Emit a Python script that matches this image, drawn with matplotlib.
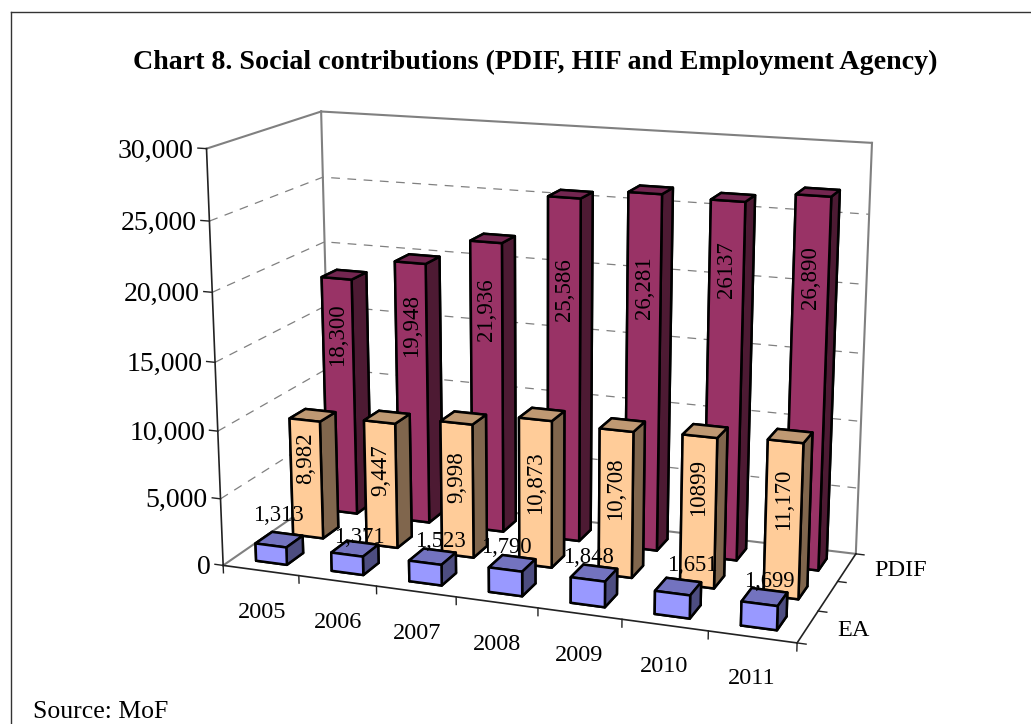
# Chart 8, Excel style 3D columns redone with mplot3d
import numpy as np
import matplotlib
matplotlib.use('Agg')
import matplotlib.pyplot as plt
from matplotlib.lines import Line2D
from mpl_toolkits.mplot3d import proj3d

plt.rcParams['font.family'] = ['Liberation Serif', 'DejaVu Serif']

years = ['2005', '2006', '2007', '2008', '2009', '2010', '2011']
ea = [1313, 1371, 1523, 1790, 1848, 1651, 1699]
hif = [8982, 9447, 9998, 10873, 10708, 10899, 11170]
pdif = [18300, 19948, 21936, 25586, 26281, 26137, 26890]

ea_text = ['1,313', '1,371', '1,523', '1,790', '1,848', '1,651', '1,699']
hif_text = ['8,982', '9,447', '9,998', '10,873', '10,708', '10899', '11,170']
pdif_text = ['18,300', '19,948', '21,936', '25,586', '26,281', '26137', '26,890']

z_ticks = [0, 5000, 10000, 15000, 20000, 25000, 30000]

# where excel left each data label, px from the top of the bar
hif_drop = [40, 50, 55, 64, 58, 50, 56]
pdif_drop = [59, 65, 69, 92, 93, 67, 78]
ea_rise = [32, 19, 23, 22, 22, 29, 22]
ea_shift = [9, 13, 16, 1, 0, 18, 8]

fig = plt.figure(figsize=(10.31, 7.24), dpi=100)
fig.patch.set_facecolor('white')
ax = fig.add_subplot(projection='3d')
ax.computed_zorder = False
ax.set_xlim(0, 7)
ax.set_ylim(0, 3)
ax.set_zlim(0, 30000)
ax.view_init(elev=14.99, azim=-69.9)
ax.set_proj_type('persp', focal_length=0.5369)
ax.set_box_aspect((1, 0.4266, 0.7167))
ax.set_axis_off()
ax.set_position([154.0 / 1031, (724 - 745.7) / 724, 755.2 / 1031, 755.2 / 724])

gray = '#808080'


def label(x, y, z, s, **kw):
    # Text3D flips rotated text on the left columns, so project it and use 2d text
    xp, yp, _ = proj3d.proj_transform(x, y, z, ax.get_proj())
    ax.text2D(xp, yp, s, transform=ax.transData, va='center', zorder=31, **kw)


# walls and floor edges
for a, b in [((0, 0, 30000), (0, 3, 30000)), ((0, 3, 30000), (7, 3, 30000)),
             ((0, 3, 0), (0, 3, 30000)), ((7, 3, 0), (7, 3, 30000)),
             ((0, 0, 0), (0, 3, 0)), ((0, 3, 0), (7, 3, 0))]:
    ax.plot(*zip(a, b), color=gray, lw=1.5, zorder=1)

for z in z_ticks[1:-1]:
    ax.plot([0, 0, 7], [0, 3, 3], [z, z, z], color=gray, lw=0.9, ls=(0, (7, 6)), zorder=1)

# axis lines
for a, b in [((0, 0, 0), (0, 0, 30000)), ((0, 0, 0), (7, 0, 0)), ((7, 0, 0), (7, 3, 0))]:
    ax.plot(*zip(a, b), color='#222222', lw=1.2, zorder=2)

for z in z_ticks:
    ax.plot([-0.11, 0], [0, 0], [z, z], color='#222222', lw=1.0, zorder=2)
    label(-0.17, 0, z - 260, f'{z:,}', ha='right', fontsize=20)

for i in range(8):
    ax.plot([i, i], [0, 0], [-560, 0], color='#222222', lw=1.0, zorder=2)
for i, y in enumerate(years):
    label(i + 0.5, 0, -2900 - (6 - i) * 50, y, ha='center', fontsize=17.5)

for d in [0, 1, 2, 3]:
    ax.plot([7, 7.1], [d, d], [0, 0], color='#222222', lw=1.0, zorder=2)
label(7.33, 0.5, 0, 'EA', ha='left', fontsize=17.5)
label(7.33, 2.5, 0, 'PDIF', ha='left', fontsize=17.5)

bar_w = 0.41
bar_d = 0.44


def draw_series(values, depth, front, top, side):
    # face order of bar3d: bottom, top, front, back, left, right
    faces = [side, top, front, side, side, side]
    for i in range(len(values) - 1, -1, -1):
        ax.bar3d(i + 0.5 - bar_w / 2, depth + 0.28, 0, bar_w, bar_d, values[i],
                 color=faces, shade=False, edgecolor='black', linewidth=1.8,
                 zorder=10 + (2 - depth))


draw_series(pdif, 2, '#993366', '#732650', '#4D1A33')
draw_series(hif, 1, '#FFCC99', '#BF9973', '#80664D')
draw_series(ea, 0, '#9999FF', '#7373BF', '#4D4D80')

z_per_px = 73.0
x_per_px = 1 / 80.0
for i in range(len(years)):
    label(i + 0.5, 2.28, pdif[i] - pdif_drop[i] * z_per_px, pdif_text[i],
          rotation=90, ha='center', fontsize=16.5)
    label(i + 0.5, 1.28, hif[i] - hif_drop[i] * z_per_px, hif_text[i],
          rotation=90, ha='center', fontsize=16.5)
    label(i + 0.5 + ea_shift[i] * x_per_px, 0.28, ea[i] + ea_rise[i] * z_per_px, ea_text[i],
          ha='center', fontsize=16.3)

fig.text(535 / 1031, 1 - 62 / 724, 'Chart 8. Social contributions (PDIF, HIF and Employment Agency)',
         ha='center', va='center', fontsize=20.15, fontweight='bold')
fig.text(33 / 1031, 1 - 712 / 724, 'Source: MoF', ha='left', va='center', fontsize=18.5)

# frame is cut by the page on the right and at the bottom
fig.add_artist(Line2D([10.5 / 1031, 10.5 / 1031], [0, 1 - 12 / 724], color='#333333', lw=1.0))
fig.add_artist(Line2D([10.5 / 1031, 1], [1 - 12 / 724, 1 - 12 / 724], color='#333333', lw=1.0))

fig.savefig('out.png', dpi=100)
